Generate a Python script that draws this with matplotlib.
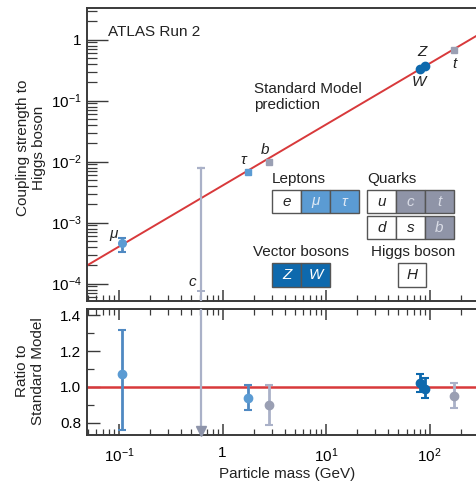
import matplotlib
matplotlib.use('Agg')
import matplotlib.pyplot as plt
from matplotlib.patches import Rectangle
from matplotlib.ticker import FixedLocator, NullFormatter, LogLocator, FixedFormatter

plt.rcParams['font.family'] = ['Liberation Sans', 'DejaVu Sans']
plt.rcParams['mathtext.fontset'] = 'custom'
plt.rcParams['mathtext.rm'] = 'Liberation Sans'
plt.rcParams['mathtext.it'] = 'Liberation Sans:italic'
plt.rcParams['mathtext.default'] = 'regular'

# ---------------- data ----------------
lep_names = ['μ', 'τ']
lep_mass = [0.1057, 1.777]
lep_coupling = [4.6e-4, 6.8e-3]
lep_coupling_hi = [5.7e-4, 6.8e-3]
lep_coupling_lo = [3.3e-4, 6.8e-3]
lep_ratio = [1.07, 0.94]
lep_ratio_hi = [1.32, 1.01]
lep_ratio_lo = [0.76, 0.87]

quark_names = ['b', 't']
quark_mass = [2.79, 172.5]
quark_coupling = [1.0e-2, 0.67]
quark_ratio = [0.90, 0.95]
quark_ratio_hi = [1.01, 1.02]
quark_ratio_lo = [0.79, 0.88]

vec_names = ['W', 'Z']
vec_mass = [80.4, 91.19]
vec_coupling = [0.33, 0.37]
vec_ratio = [1.02, 0.99]
vec_ratio_hi = [1.07, 1.05]
vec_ratio_lo = [0.97, 0.94]

charm_name = 'c'
charm_mass = 0.62
charm_coupling = 7.7e-5
charm_coupling_limit = 7.8e-3
charm_ratio_marker = 0.755

sm_mass = [0.049, 281]
sm_coupling = [1.99e-4, 1.142]
sm_ratio = [1.0, 1.0]

x_ticks = [0.1, 1, 10, 100]
x_ticklabels = ['$10^{-1}$', '1', '$10^{1}$', '$10^{2}$']
y_ticks = [1e-4, 1e-3, 1e-2, 1e-1, 1]
y_ticklabels = ['$10^{-4}$', '$10^{-3}$', '$10^{-2}$', '$10^{-1}$', '1']
r_ticks = [0.8, 1.0, 1.2, 1.4]
r_ticklabels = ['0.8', '1.0', '1.2', '1.4']
r_minor = [0.9, 1.1, 1.3]

# ---------------- style ----------------
RED = '#d8393b'
LEP = '#5b9bd3'
LEP_E = '#4f89c2'
VEC = '#0e69ad'
QRK = '#9a9fb3'
QRK_E = '#aab1c8'
SP = '#3a3a3a'
FS = 11

W, H = 476, 486
fig = plt.figure(figsize=(W / 100, H / 100), dpi=100)

def px(x, y):
    return x / W, 1 - y / H

ax = fig.add_axes([87 / W, 1 - 301 / H, 1 - 87 / W, (301 - 8) / H])
axr = fig.add_axes([87 / W, 1 - 435 / H, 1 - 87 / W, (435 - 309) / H])

for a in (ax, axr):
    a.set_xscale('log')
    a.set_xlim(0.049, 281)
    a.spines['right'].set_visible(False)
    for s in ('left', 'bottom', 'top'):
        a.spines[s].set_color(SP)
        a.spines[s].set_linewidth(1.4)

ax.set_yscale('log')
ax.set_ylim(5.2e-5, 3.3)

# SM line
ax.plot(sm_mass, sm_coupling, color=RED, lw=1.4, zorder=2)
axr.plot(sm_mass, sm_ratio, color=RED, lw=1.8, zorder=2)

# ---- top panel ----
# charm (limit)
ax.plot([charm_mass, charm_mass], [1e-6, charm_coupling_limit], color=QRK_E, lw=1.6, zorder=3, clip_on=True)
ax.plot([charm_mass], [charm_coupling_limit], marker='_', ms=6, mew=1.6, color=QRK_E, zorder=3)
ax.plot([charm_mass], [charm_coupling], marker='P', ms=6, mew=0, color=QRK_E, zorder=4)

# muon with error bar, tau
ax.errorbar([lep_mass[0]], [lep_coupling[0]],
            yerr=[[lep_coupling[0] - lep_coupling_lo[0]], [lep_coupling_hi[0] - lep_coupling[0]]],
            fmt='o', ms=5.5, color=LEP, ecolor=LEP_E, elinewidth=2, capsize=3, capthick=1.5, zorder=5)
ax.plot([lep_mass[1]], [lep_coupling[1]], 's', ms=5, color=LEP, zorder=5)
ax.plot(quark_mass, quark_coupling, 's', ms=5, color=QRK, zorder=5)
ax.plot(vec_mass, vec_coupling, 'o', ms=6, color=VEC, zorder=5)

# particle labels
def lab(x, y, t, dx, dy):
    ax.annotate(t, (x, y), xytext=(dx, dy), textcoords='offset pixels',
                ha='center', va='center', style='italic', fontsize=FS, color='#222')

lab(lep_mass[0], lep_coupling[0], lep_names[0], -8, 9)
lab(lep_mass[1], lep_coupling[1], lep_names[1], -5, 12)
lab(quark_mass[0], quark_coupling[0], quark_names[0], -4, 12)
lab(quark_mass[1], quark_coupling[1], quark_names[1], 0, -14)
lab(vec_mass[0], vec_coupling[0], vec_names[0], -1, -13)
lab(vec_mass[1], vec_coupling[1], vec_names[1], -3, 14)
lab(charm_mass, charm_coupling, charm_name, -9, 9)

ax.yaxis.set_major_locator(FixedLocator(y_ticks))
ax.yaxis.set_major_formatter(FixedFormatter(y_ticklabels))
ax.yaxis.set_minor_locator(LogLocator(base=10, subs=range(2, 10), numticks=20))
ax.yaxis.set_minor_formatter(NullFormatter())
ax.tick_params(axis='y', which='major', direction='in', length=15, width=1, color=SP, labelsize=FS, pad=4)
ax.tick_params(axis='y', which='minor', direction='in', length=7, width=0.9, color=SP)

for a in (ax, axr):
    a.xaxis.set_major_locator(FixedLocator(x_ticks))
    a.xaxis.set_minor_locator(LogLocator(base=10, subs=range(2, 10), numticks=20))
    a.xaxis.set_minor_formatter(NullFormatter())
    a.tick_params(axis='x', which='major', direction='in', length=8, width=1.1, color=SP, labelsize=FS, pad=8)
    a.tick_params(axis='x', which='minor', direction='in', length=4, width=0.9, color=SP)

ax.tick_params(axis='x', which='both', top=False, bottom=True, labelbottom=False)
axr.tick_params(axis='x', which='both', top=True, bottom=True)
axr.xaxis.set_major_formatter(FixedFormatter(x_ticklabels))

# ---- ratio panel ----
axr.set_ylim(0.732, 1.435)
axr.yaxis.set_major_locator(FixedLocator(r_ticks))
axr.yaxis.set_major_formatter(FixedFormatter(r_ticklabels))
axr.yaxis.set_minor_locator(FixedLocator(r_minor))
axr.tick_params(axis='y', which='major', direction='in', length=9, width=1, color=SP, labelsize=FS, pad=4)
axr.tick_params(axis='y', which='minor', direction='in', length=5, width=0.9, color=SP)

def ratio_err(m, r, hi, lo, fc, ec):
    axr.errorbar(m, r, yerr=[[ri - l for ri, l in zip(r, lo)], [h - ri for ri, h in zip(r, hi)]],
                 fmt='o', ms=6, color=fc, ecolor=ec, elinewidth=2, capsize=3, capthick=1.5, zorder=5)

ratio_err(lep_mass, lep_ratio, lep_ratio_hi, lep_ratio_lo, LEP, LEP_E)
ratio_err(quark_mass, quark_ratio, quark_ratio_hi, quark_ratio_lo, QRK, QRK_E)
ratio_err(vec_mass, vec_ratio, vec_ratio_hi, vec_ratio_lo, VEC, VEC)

axr.plot([charm_mass, charm_mass], [2.0, charm_ratio_marker], color=QRK_E, lw=1.6, zorder=3)
axr.plot([charm_mass], [charm_ratio_marker], 'v', ms=6.5, color='#8e94aa', zorder=4, clip_on=False)

# ---- texts ----
fig.text(*px(31, 148), 'Coupling strength to\nHiggs boson', rotation=90, ha='center', va='center',
         fontsize=FS, multialignment='center', color='#222')
fig.text(*px(30, 371), 'Ratio to\nStandard Model', rotation=90, ha='center', va='center',
         fontsize=FS, multialignment='center', color='#222')
fig.text(*px(287, 474), 'Particle mass (GeV)', ha='center', va='center', fontsize=FS, color='#222')
fig.text(*px(108, 32), 'ATLAS Run 2', ha='left', va='center', fontsize=FS, color='#222')
fig.text(*px(254, 82), 'Standard Model\nprediction', ha='left', va='top', fontsize=FS,
         color='#222', linespacing=1.2)

# ---- legend boxes ----
def box(x0, y0, w, h, face, label, tcolor):
    fig.add_artist(Rectangle(px(x0, y0 + h), w / W, h / H, transform=fig.transFigure,
                             facecolor=face, edgecolor='#555555', lw=1))
    fig.text(*px(x0 + w / 2, y0 + h / 2), label, ha='center', va='center', style='italic',
             fontsize=FS, color=tcolor)

fig.text(*px(272, 179), 'Leptons', ha='left', va='center', fontsize=FS, color='#222')
box(272, 190, 29, 23, 'white', 'e', '#222')
box(301, 190, 29, 23, LEP, 'μ', '#dfe9f5')
box(330, 190, 29, 23, LEP, 'τ', '#dfe9f5')

fig.text(*px(367, 179), 'Quarks', ha='left', va='center', fontsize=FS, color='#222')
box(367, 190, 29, 23, 'white', 'u', '#222')
box(396, 190, 29, 23, '#8f94a7', 'c', '#d9dce6')
box(425, 190, 29, 23, '#8f94a7', 't', '#d9dce6')
box(367, 216, 29, 23, 'white', 'd', '#222')
box(396, 216, 29, 23, 'white', 's', '#222')
box(425, 216, 29, 23, '#8f94a7', 'b', '#d9dce6')

fig.text(*px(253, 252), 'Vector bosons', ha='left', va='center', fontsize=FS, color='#222')
box(272, 263, 29, 24, VEC, 'Z', 'white')
box(301, 263, 29, 24, VEC, 'W', 'white')

fig.text(*px(371, 252), 'Higgs boson', ha='left', va='center', fontsize=FS, color='#222')
box(398, 263, 28, 24, 'white', 'H', '#222')

fig.savefig('out.png', dpi=100)
